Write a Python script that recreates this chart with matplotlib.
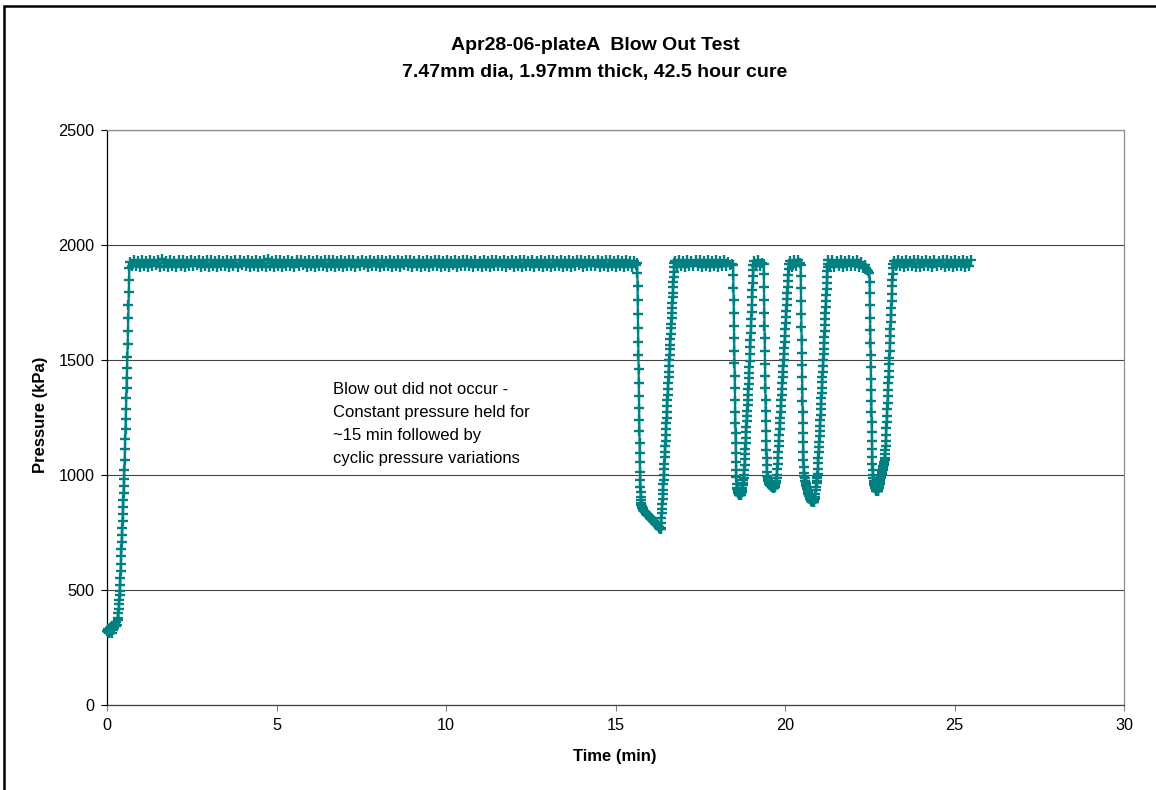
import numpy as np
import matplotlib
matplotlib.use("Agg")
import matplotlib.pyplot as plt
from matplotlib.patches import Rectangle

plt.rcParams['font.family'] = ['Liberation Sans', 'DejaVu Sans']

TITLE_1 = "Apr28-06-plateA  Blow Out Test"
TITLE_2 = "7.47mm dia, 1.97mm thick, 42.5 hour cure"
X_LABEL = "Time (min)"
Y_LABEL = "Pressure (kPa)"
NOTE_LINES = ["Blow out did not occur -",
              "Constant pressure held for",
              "~15 min followed by",
              "cyclic pressure variations"]
x_ticks = [0, 5, 10, 15, 20, 25, 30]
y_ticks = [0, 500, 1000, 1500, 2000, 2500]

# Logged pressure (kPa), stored per segment with its start time and sample step (min)
p_idle = [322, 316, 331, 312, 336, 318, 341, 314, 344, 328, 349, 336, 354, 343, 360, 350, 368]
p_ramp = [380, 400, 418, 438, 457, 477, 495, 522, 553, 584, 615, 646, 677, 707, 738, 769, 800, 830,
          861, 892, 923, 954, 984, 1022, 1067, 1111, 1156, 1200, 1244, 1289, 1333, 1378, 1422,
          1467, 1514, 1570, 1626, 1682, 1738, 1794, 1850, 1900]
p_hold1 = [
    1926, 1907, 1934, 1910, 1931, 1905, 1936, 1909, 1932, 1904, 1935, 1908, 1930, 1911, 1933, 1906, 1937, 1909, 1932, 1905,
    1934, 1908, 1931, 1906, 1935, 1910, 1933, 1904, 1930, 1909, 1936, 1907, 1932, 1911, 1934, 1905, 1931, 1908, 1935, 1906,
    1933, 1910, 1930, 1905, 1936, 1908, 1932, 1907, 1934, 1904, 1931, 1909, 1935, 1906, 1933, 1911, 1930, 1907, 1936, 1905,
    1932, 1909, 1935, 1906, 1931, 1910, 1934, 1905, 1937, 1908, 1930, 1906, 1933, 1909, 1936, 1904, 1932, 1910, 1934, 1907,
    1931, 1905, 1935, 1908, 1933, 1911, 1930, 1906, 1936, 1909, 1932, 1904, 1934, 1907, 1931, 1910, 1935, 1905, 1933, 1908,
    1936, 1906, 1932, 1909, 1934, 1905, 1930, 1910, 1935, 1907, 1933, 1904, 1931, 1908, 1936, 1911, 1932, 1906, 1934, 1909,
    1930, 1907, 1935, 1905, 1933, 1910, 1931, 1908, 1936, 1906, 1932, 1909, 1934, 1904, 1930, 1911, 1935, 1907, 1933, 1905,
    1931, 1909, 1936, 1906, 1932, 1908, 1934, 1905, 1930, 1910, 1935, 1907, 1933, 1904, 1931, 1909, 1936, 1906, 1932, 1911,
    1934, 1905, 1930, 1908, 1935, 1907, 1933, 1910, 1931, 1904, 1936, 1909, 1932, 1906, 1934, 1908, 1930, 1905, 1935, 1910,
    1933, 1907, 1931, 1909, 1936, 1905, 1932, 1911, 1934, 1906, 1930, 1908, 1935, 1904, 1933, 1910, 1931, 1907, 1936, 1905,
    1932, 1908, 1934, 1906, 1930, 1909, 1935, 1905, 1933, 1910, 1931, 1907, 1936, 1904, 1932, 1909, 1934, 1906, 1930, 1908,
    1935, 1911, 1933, 1905, 1931, 1908, 1936, 1907, 1932, 1909, 1934, 1904, 1930, 1910, 1935, 1906, 1933, 1908, 1931, 1905,
    1936, 1909, 1932, 1906, 1934, 1908, 1930, 1905, 1931, 1912]
p_drop1 = [1922, 1880, 1820, 1760, 1700, 1640, 1580, 1520, 1460, 1400, 1345, 1290, 1240, 1190, 1140,
           1095, 1055, 1015, 980, 950, 925, 905, 890, 878]
p_low1 = [870, 866, 857, 856, 849, 848, 844, 843, 839, 839, 835, 835, 832, 831, 828, 828, 825, 824,
          821, 821, 818, 817, 814, 814, 810, 809, 806, 806, 802, 801, 798, 798, 794, 793, 790, 790,
          786, 785, 782, 781, 778, 778, 774, 772, 769, 768, 765, 764]
p_rise1 = [770, 792, 812, 834, 853, 876, 894, 917, 936, 959, 980, 1002, 1027, 1050, 1077, 1099, 1126,
           1149, 1176, 1198, 1226, 1249, 1276, 1299, 1326, 1349, 1376, 1398, 1426, 1449, 1476, 1500,
           1522, 1546, 1567, 1591, 1612, 1637, 1657, 1682, 1703, 1727, 1748, 1773, 1793, 1818, 1839,
           1863, 1884, 1904, 1920]
p_hold2 = [1931, 1906, 1935, 1909, 1932, 1905, 1934, 1908, 1930, 1910, 1936, 1907, 1933, 1905, 1931,
           1909, 1935, 1906, 1932, 1908, 1934, 1905, 1930, 1909, 1933, 1907, 1928, 1912, 1918]
p_drop2 = [1915, 1868, 1814, 1760, 1705, 1650, 1595, 1540, 1485, 1430, 1378, 1326, 1276, 1228, 1182,
           1138, 1096, 1058, 1022, 990, 962]
p_low2 = [945, 937, 931, 926, 922, 919, 917, 915, 914, 913, 913, 914, 916, 920, 926, 934, 944, 955,
          966, 977, 988]
p_rise2 = [998, 1020, 1045, 1068, 1092, 1115, 1139, 1162, 1186, 1209, 1233, 1256, 1280, 1303, 1327,
           1350, 1374, 1397, 1421, 1444, 1468, 1494, 1524, 1555, 1586, 1617, 1648, 1679, 1710, 1741,
           1772, 1803, 1834, 1865, 1893, 1915]
p_hold3 = [1932, 1907, 1934, 1909, 1922]
p_drop3 = [1918, 1872, 1818, 1762, 1706, 1650, 1594, 1538, 1484, 1430, 1378, 1328, 1280, 1234, 1190,
           1148, 1110, 1074, 1042, 1014]
p_low3 = [995, 985, 978, 972, 967, 963, 960, 957, 955, 953, 951, 949, 948, 946, 945, 944, 944, 945,
          947, 950, 956, 964, 975, 988]
p_rise3 = [1000, 1025, 1050, 1075, 1100, 1125, 1150, 1175, 1200, 1225, 1250, 1275, 1300, 1325, 1350,
           1375, 1400, 1425, 1450, 1475, 1500, 1527, 1553, 1580, 1606, 1633, 1659, 1686, 1712, 1739,
           1765, 1792, 1818, 1845, 1871, 1896, 1916]
p_hold4 = [1931, 1906, 1935, 1908, 1933, 1920]
p_drop4 = [1915, 1866, 1812, 1756, 1700, 1644, 1588, 1532, 1478, 1424, 1372, 1322, 1274, 1228, 1184,
           1142, 1102, 1066, 1034]
p_low4 = [1008, 997, 986, 976, 967, 959, 951, 944, 937, 931, 925, 919, 914, 909, 904, 900, 896, 892,
          889, 886, 884, 882, 881, 881, 883, 888, 895, 905, 918, 933, 950]
p_rise4 = [966, 975, 985, 994, 1004, 1027, 1051, 1074, 1098, 1121, 1145, 1168, 1192, 1215, 1239, 1262,
           1286, 1309, 1333, 1356, 1380, 1403, 1427, 1450, 1474, 1498, 1524, 1550, 1576, 1602, 1628,
           1654, 1680, 1706, 1732, 1758, 1784, 1810, 1836, 1862, 1886, 1906, 1918]
p_hold5 = [1933, 1908, 1935, 1906, 1931, 1909, 1934, 1905, 1932, 1910, 1936, 1907, 1930, 1908, 1933,
           1904, 1928, 1902, 1912]
p_sag5 = [1900, 1893, 1885]
p_drop5 = [1878, 1840, 1790, 1738, 1684, 1630, 1576, 1522, 1470, 1418, 1368, 1320, 1274, 1230, 1188,
           1148, 1112, 1078, 1048, 1022, 1000]
p_low5 = [985, 975, 966, 958, 951, 945, 940, 936, 932, 930, 929, 929, 931, 935, 942, 951, 961, 971,
          980, 987]
p_rise5 = [993, 999, 1005, 1010, 1016, 1021, 1027, 1032, 1038, 1044, 1050, 1057, 1065, 1076, 1090,
           1107, 1127, 1150, 1176, 1203, 1230, 1258, 1286, 1314, 1342, 1370, 1398, 1426, 1454, 1482,
           1510, 1541, 1572, 1603, 1634, 1665, 1696, 1727, 1758, 1789, 1820, 1849, 1876, 1899, 1916]
p_hold6 = [1930, 1907, 1935, 1909, 1932, 1905, 1934, 1908, 1931, 1910, 1936, 1906, 1933, 1904, 1930,
           1909, 1935, 1907, 1932, 1905, 1934, 1908, 1931, 1911, 1936, 1906, 1933, 1909, 1930, 1905,
           1935, 1907, 1932, 1910, 1934, 1906, 1931, 1908, 1933]

# (start time, step, pressures)
segments = [
    (0.00, 0.02, p_idle), (0.33, 0.008, p_ramp), (0.67, 0.06, p_hold1),
    (15.64, 0.005, p_drop1), (15.765, 0.012, p_low1), (16.34, 0.008, p_rise1),
    (16.76, 0.06, p_hold2), (18.47, 0.005, p_drop2), (18.58, 0.01, p_low2), (18.79, 0.008, p_rise2),
    (19.09, 0.06, p_hold3), (19.37, 0.005, p_drop3), (19.475, 0.012, p_low3), (19.76, 0.01, p_rise3),
    (20.14, 0.06, p_hold4), (20.46, 0.005, p_drop4), (20.56, 0.012, p_low4), (20.93, 0.008, p_rise4),
    (21.28, 0.06, p_hold5), (22.40, 0.03, p_sag5), (22.49, 0.005, p_drop5), (22.60, 0.012, p_low5),
    (22.84, 0.008, p_rise5), (23.21, 0.06, p_hold6),
]
time = np.concatenate([t0 + dt * np.arange(len(p)) for t0, dt, p in segments])
pressure = np.concatenate([np.asarray(p, dtype=float) for _, _, p in segments])

W, H = 1156, 790
fig = plt.figure(figsize=(W / 100, H / 100), dpi=100)
fig.patch.set_facecolor('white')

# chart-area frame
fig.add_artist(Rectangle((4 / W, -0.1), 1.2, 1.1 - 5.5 / H, transform=fig.transFigure,
                         fill=False, lw=1.8, ec='black'))

ax = fig.add_axes([107 / W, 1 - 705 / H, (1124 - 107) / W, (705 - 130) / H])
ax.set_xlim(0, 30)
ax.set_ylim(0, 2500)
ax.set_xticks(x_ticks)
ax.set_yticks(y_ticks)
ax.tick_params(axis='both', direction='out', length=4, width=0.8, labelsize=11.7,
               colors='black')
ax.tick_params(axis='x', pad=5, color='#808080')
ax.tick_params(axis='y', pad=5)
ax.yaxis.grid(True, color='#444444', lw=0.8)
ax.set_axisbelow(True)
ax.spines['left'].set_color('black')
ax.spines['left'].set_linewidth(0.9)
ax.spines['bottom'].set_color('#404040')
ax.spines['bottom'].set_linewidth(0.9)
ax.spines['right'].set_color('#8c8c8c')
ax.spines['right'].set_linewidth(0.9)
ax.spines['top'].set_color('#8c8c8c')
ax.spines['top'].set_linewidth(0.9)

ax.plot(time, pressure, color='#008080', lw=1.6, marker='+', ms=7, mew=1.7,
        clip_on=False, zorder=3)

for i, line in enumerate(NOTE_LINES):
    ax.text(6.67, 1370 - 100 * i, line, ha='left', va='center', fontsize=12)

fig.text(595 / W, 1 - 45 / H, TITLE_1, ha='center', va='center', fontsize=14, fontweight='bold')
fig.text(595 / W, 1 - 72 / H, TITLE_2, ha='center', va='center', fontsize=14, fontweight='bold')
fig.text(615 / W, 1 - 756 / H, X_LABEL, ha='center', va='center', fontsize=12, fontweight='bold')
fig.text(40 / W, 1 - 415 / H, Y_LABEL, ha='center', va='center', rotation=90, fontsize=12,
         fontweight='bold')

fig.savefig('out.png', dpi=100)
